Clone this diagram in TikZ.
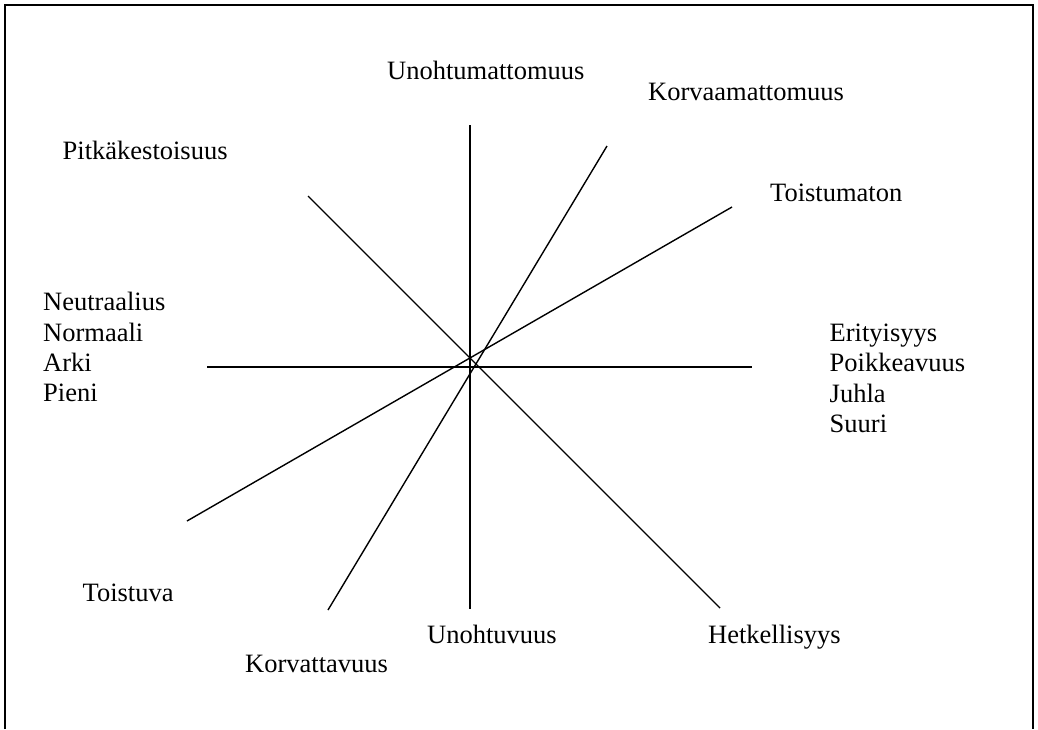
\documentclass[tikz,border=0pt]{standalone}
\usepackage{fontspec}
\setmainfont{Liberation Serif}
\usepackage{tikz}

\tikzset{
    lbl/.style={anchor=base west, inner sep=0pt, font=\fontsize{26.5}{30}\selectfont},
    axis/.style={line width=1.4pt},
    frame/.style={line width=1.6pt}
}

\begin{document}
\begin{tikzpicture}[x=1pt, y=-1pt]
        \useasboundingbox (0,0) rectangle (1038,729);
        \draw[frame] (5,729) -- (5,5) -- (1033,5) -- (1033,729);

        % axis end points
        \coordinate (vtop) at (470,125);
        \coordinate (vbot) at (470,609);
        \coordinate (hleft) at (207,367);
        \coordinate (hright) at (752,367);
        \coordinate (dnw) at (308,196);
        \coordinate (dse) at (720,608);
        \coordinate (kne) at (607,146);
        \coordinate (ksw) at (328,610);
        \coordinate (tne) at (732,207);
        \coordinate (tsw) at (187,521);

        \draw[axis] (vtop) -- (vbot);
        \draw[axis] (hleft) -- (hright);
        \draw[axis] (dnw) -- (dse);
        \draw[axis] (kne) -- (ksw);
        \draw[axis] (tne) -- (tsw);

        % end labels
        \node[lbl] (unoh) at (387,79.5) {Unohtumattomuus};
        \node[lbl] (korvm) at (648,100.5) {Korvaamattomuus};
        \node[lbl] (pitka) at (62.5,159.5) {Pitkäkestoisuus};
        \node[lbl] (toistm) at (770,201) {Toistumaton};
        \node[lbl] (toistv) at (82.5,601.5) {Toistuva};
        \node[lbl] (unohtv) at (427,643) {Unohtuvuus};
        \node[lbl] (hetk) at (708,643) {Hetkellisyys};
        \node[lbl] (korvt) at (245,672) {Korvattavuus};

        % left and right groups
        \foreach \t [count=\i] in {Neutraalius,Normaali,Arki,Pieni} {
                \node[lbl] (left\i) at (43,280.4+30.3*\i) {\t};
            }
        \foreach \t [count=\i] in {Erityisyys,Poikkeavuus,Juhla,Suuri} {
                \node[lbl] (right\i) at (829.5,311.4+30.2*\i) {\t};
            }
    \end{tikzpicture}
\end{document}
